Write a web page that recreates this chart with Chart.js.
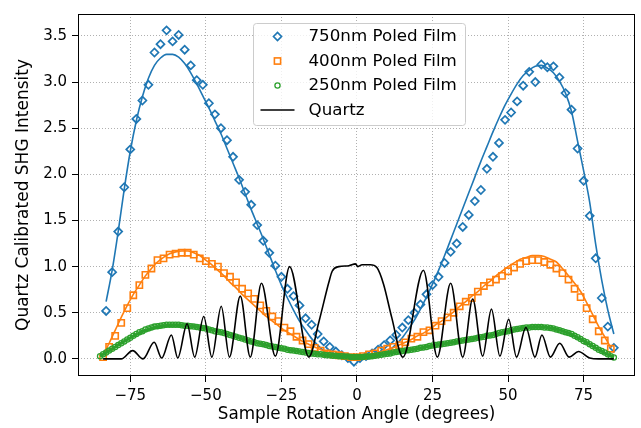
<!DOCTYPE html>
<html>
<head>
<meta charset="utf-8">
<script src="https://cdn.jsdelivr.net/npm/chart.js@4.4.1/dist/chart.umd.min.js"></script>
<style>
  html, body { margin: 0; padding: 0; background: #fff; }
  #wrap { width: 641px; height: 428px; }
</style>
</head>
<body>
<div id="wrap"><canvas id="shgChart" width="641" height="428"></canvas></div>
<script>
// tick labels
const xTicks = [-75, -50, -25, 0, 25, 50, 75];
const yTicks = [0, 0.5, 1, 1.5, 2, 2.5, 3, 3.5];

// measurement angles (degrees)
function angleRange(start, end, step) {
    const out = [];
    for (let a = start; a <= end; a += step) out.push(a);
    return out;
}
const film750Angles = angleRange(-83, 85, 2);
const film400Angles = angleRange(-84, 84, 2);
const film250Angles = angleRange(-85, 85, 1);

// measured points
const film750Values = [
    0.52, 0.94, 1.38, 1.86, 2.27, 2.60, 2.80, 2.97, 3.32, 3.41,
    3.56, 3.44, 3.51, 3.35, 3.18, 3.02, 2.97, 2.77, 2.65, 2.50,
    2.37, 2.19, 1.94, 1.81, 1.67, 1.45, 1.28, 1.15, 1.01, 0.89,
    0.76, 0.68, 0.58, 0.44, 0.37, 0.27, 0.19, 0.13, 0.08, 0.04,
    0.01, -0.03,
    0.01, 0.03, 0.06, 0.10, 0.15, 0.20, 0.26, 0.34,
    0.42, 0.50, 0.59, 0.70, 0.80, 0.89, 1.04, 1.16, 1.25, 1.43,
    1.56, 1.71, 1.83, 2.06, 2.19, 2.34, 2.59, 2.67, 2.79, 2.96,
    3.11, 3.00, 3.19, 3.16, 3.17, 3.05, 2.88, 2.70, 2.28, 1.93,
    1.55, 1.09, 0.66, 0.35, 0.12
];
const film400Values = [
    0.02, 0.13, 0.25, 0.39, 0.55, 0.69, 0.80, 0.91, 0.98, 1.07,
    1.09, 1.13, 1.14, 1.15, 1.15, 1.13, 1.09, 1.06, 1.03, 1.00,
    0.93, 0.89, 0.83, 0.76, 0.71, 0.65, 0.58, 0.52, 0.46, 0.41,
    0.34, 0.30, 0.24, 0.20, 0.16, 0.12, 0.09, 0.06, 0.05, 0.04,
    0.03, 0.02, 0.02,
    0.03, 0.05, 0.06, 0.09, 0.11, 0.13, 0.15,
    0.18, 0.22, 0.24, 0.29, 0.31, 0.36, 0.41, 0.45, 0.50, 0.57,
    0.62, 0.66, 0.73, 0.79, 0.83, 0.86, 0.90, 0.95, 0.99, 1.03,
    1.06, 1.07, 1.07, 1.05, 1.02, 0.98, 0.93, 0.86, 0.76, 0.67,
    0.55, 0.43, 0.30, 0.20, 0.11
];
const film250Values = [
    0.03, 0.05, 0.07, 0.09, 0.11, 0.13, 0.15, 0.17, 0.19, 0.21,
    0.23, 0.25, 0.27, 0.29, 0.30, 0.32, 0.33, 0.34, 0.35, 0.355,
    0.36, 0.365, 0.37, 0.37, 0.37, 0.37, 0.37, 0.365, 0.36, 0.36,
    0.355, 0.35, 0.345, 0.34, 0.335, 0.33, 0.32, 0.31, 0.30, 0.295,
    0.29, 0.28, 0.27, 0.26, 0.25, 0.24, 0.23, 0.22, 0.21, 0.20,
    0.19, 0.18, 0.17, 0.165, 0.16, 0.15, 0.14, 0.135, 0.13, 0.12,
    0.115, 0.11, 0.10, 0.095, 0.09, 0.085, 0.08, 0.075, 0.07, 0.065,
    0.06, 0.055, 0.05, 0.05, 0.045, 0.04, 0.04, 0.035, 0.035, 0.03,
    0.03, 0.025, 0.025, 0.02, 0.02, 0.02, 0.02, 0.02, 0.025, 0.025,
    0.03, 0.035, 0.04, 0.045, 0.05, 0.055, 0.06, 0.07, 0.075, 0.08,
    0.085, 0.09, 0.095, 0.10, 0.105, 0.11, 0.12, 0.125, 0.13, 0.14,
    0.145, 0.15, 0.155, 0.16, 0.165, 0.17, 0.175, 0.18, 0.19, 0.195,
    0.20, 0.205, 0.21, 0.215, 0.22, 0.23, 0.235, 0.24, 0.25, 0.255,
    0.26, 0.27, 0.28, 0.29, 0.295, 0.30, 0.31, 0.32, 0.325, 0.33,
    0.335, 0.34, 0.34, 0.345, 0.345, 0.345, 0.345, 0.34, 0.34, 0.335,
    0.33, 0.32, 0.31, 0.30, 0.29, 0.28, 0.27, 0.25, 0.235, 0.215,
    0.195, 0.18, 0.16, 0.14, 0.12, 0.10, 0.085, 0.07, 0.05, 0.03,
    0.015
];

// fitted curves
const fit750Values = [
    0.62, 0.96, 1.38, 1.84, 2.25, 2.58, 2.84, 3.04, 3.18, 3.26,
    3.30, 3.30, 3.27, 3.20, 3.10, 2.98, 2.85, 2.72, 2.58, 2.44,
    2.28, 2.12, 1.96, 1.79, 1.62, 1.46, 1.30, 1.13, 0.96, 0.80,
    0.66, 0.53, 0.41, 0.31, 0.22, 0.15, 0.09, 0.05, 0.02, 0.01,
    0.00, 0.00,
    0.00, 0.00, 0.01, 0.03, 0.06, 0.10, 0.16, 0.23, 0.32, 0.42,
    0.54, 0.67, 0.81, 0.96, 1.12, 1.29, 1.46, 1.63, 1.80, 1.97,
    2.14, 2.30, 2.46, 2.61, 2.75, 2.87, 2.98, 3.07, 3.13, 3.17,
    3.18, 3.15, 3.10, 3.01, 2.88, 2.68, 2.36, 2.04, 1.70, 1.24,
    0.85, 0.53, 0.27
];
const fit400Values = [
    0.04, 0.17, 0.31, 0.45, 0.58, 0.70, 0.80, 0.90, 0.98, 1.05,
    1.10, 1.14, 1.16, 1.17, 1.17, 1.15, 1.12, 1.07, 1.02, 0.96,
    0.90, 0.83, 0.77, 0.70, 0.64, 0.58, 0.52, 0.46, 0.41, 0.36,
    0.31, 0.27, 0.23, 0.19, 0.16, 0.13, 0.10, 0.08, 0.06, 0.05,
    0.04, 0.03, 0.03,
    0.04, 0.05, 0.06, 0.08, 0.10, 0.12, 0.15,
    0.18, 0.21, 0.25, 0.28, 0.32, 0.37, 0.41, 0.46, 0.51, 0.57,
    0.62, 0.68, 0.73, 0.79, 0.84, 0.90, 0.95, 1.00, 1.04, 1.08,
    1.10, 1.12, 1.12, 1.11, 1.08, 1.05, 0.98, 0.90, 0.82, 0.73,
    0.61, 0.48, 0.35, 0.24, 0.12
];
const fit250Angles = [-85, -80, -75, -70, -65, -60, -55, -50, -45, -40, -35, -30, -25, -20, -15, -10, -5, 0,
    5, 10, 15, 20, 25, 30, 35, 40, 45, 50, 55, 60, 65, 70, 75, 80, 85];
const fit250Values = [0.03, 0.13, 0.23, 0.31, 0.355, 0.365, 0.355, 0.33, 0.29, 0.24, 0.19, 0.15, 0.115, 0.085, 0.06, 0.04, 0.03, 0.02,
    0.03, 0.055, 0.085, 0.11, 0.145, 0.17, 0.20, 0.23, 0.26, 0.30, 0.335, 0.345, 0.33, 0.28, 0.195, 0.10, 0.015];

// quartz reference (fringe peaks and troughs)
const quartzAngles = [-84, -78, -74.2, -70.8, -67.1, -64.6, -61.4, -59.3, -56.2, -53.7,
    -50.7, -48.0, -44.9, -42.2, -38.6, -35.3, -31.6, -27.0, -22.3, -15.9,
    -12.6, -9.3, -8.2, -6.0, -2.7, -0.5, 0.3, 1.7, 4.4, 6.6,
    8.8, 11.5, 15.2, 22.0, 26.6, 31.0, 35.0, 38.3, 41.6, 44.5,
    47.3, 50.2, 52.8, 55.9, 58.9, 61.2, 64.0, 67.1, 70.2, 73.3,
    77.0, 80.0, 85.0];
const quartzValues = [0.0, 0.0, 0.09, 0.0, 0.18, 0.01, 0.26, 0.01, 0.38, 0.02,
    0.46, 0.02, 0.57, 0.02, 0.68, 0.02, 0.82, 0.03, 1.00, 0.02,
    0.40, 0.83, 0.95, 1.00, 1.01, 1.03, 1.00, 1.02, 1.02, 0.99,
    0.81, 0.45, 0.02, 0.96, 0.02, 0.82, 0.02, 0.65, 0.03, 0.54,
    0.03, 0.43, 0.02, 0.34, 0.02, 0.26, 0.02, 0.17, 0.02, 0.08,
    0.01, 0.0, 0.0];

const BLUE = '#1f77b4', ORANGE = '#ff7f0e', GREEN = '#2ca02c';
const FONT = '"DejaVu Sans", "Liberation Sans", sans-serif';

const pts = (xs, ys) => xs.map((x, i) => ({ x: x, y: ys[i] }));

// draws the box frame and the legend inside the axes
const frameLegend = {
    id: 'frameLegend',
    afterDraw(chart) {
        const { ctx, chartArea: a } = chart;
        ctx.save();
        ctx.strokeStyle = '#000';
        ctx.lineWidth = 1;
        ctx.strokeRect(Math.round(a.left) + 0.5, Math.round(a.top) + 0.5,
            Math.round(a.right - a.left) - 1, Math.round(a.bottom - a.top) - 1);

        const lx = a.left + 175.5, ly = a.top + 9.5, lw = 212, lh = 102;
        ctx.beginPath();
        ctx.roundRect(lx, ly, lw, lh, 3);
        ctx.fillStyle = 'rgba(255,255,255,0.8)';
        ctx.fill();
        ctx.strokeStyle = '#cccccc';
        ctx.stroke();

        const mx = lx + 24, tx = lx + 55;
        const rows = [ly + 13, ly + 37.5, ly + 62, ly + 86.5];
        const labels = ['750nm Poled Film', '400nm Poled Film', '250nm Poled Film', 'Quartz'];

        ctx.lineWidth = 1.7;
        ctx.strokeStyle = BLUE;
        ctx.beginPath();
        ctx.moveTo(mx - 4, rows[0]); ctx.lineTo(mx, rows[0] - 4);
        ctx.lineTo(mx + 4, rows[0]); ctx.lineTo(mx, rows[0] + 4); ctx.closePath();
        ctx.stroke();

        ctx.lineWidth = 1.6;
        ctx.strokeStyle = ORANGE;
        ctx.strokeRect(mx - 3.1, rows[1] - 3.1, 6.2, 6.2);

        ctx.lineWidth = 1.3;
        ctx.strokeStyle = GREEN;
        ctx.beginPath();
        ctx.arc(mx, rows[2], 2.6, 0, Math.PI * 2);
        ctx.stroke();

        ctx.lineWidth = 1.6;
        ctx.strokeStyle = '#000';
        ctx.beginPath();
        ctx.moveTo(lx + 7, rows[3]); ctx.lineTo(lx + 41, rows[3]);
        ctx.stroke();

        ctx.fillStyle = '#000';
        ctx.font = '16.7px ' + FONT;
        ctx.textBaseline = 'middle';
        ctx.textAlign = 'left';
        labels.forEach((t, i) => ctx.fillText(t, tx, rows[i] + 0.5));
        ctx.restore();
    }
};

window.addEventListener('DOMContentLoaded', () => {
    const ctx = document.getElementById('shgChart').getContext('2d');
    new Chart(ctx, {
        type: 'scatter',
        data: {
            datasets: [
                {
                    label: '750nm Poled Film',
                    data: pts(film750Angles, film750Values),
                    pointStyle: 'rectRot',
                    pointRadius: 4,
                    borderWidth: 1.7,
                    borderColor: BLUE,
                    backgroundColor: 'rgba(0,0,0,0)',
                    order: 7
                },
                {
                    label: '750nm fit',
                    data: pts(film750Angles, fit750Values),
                    showLine: true,
                    pointRadius: 0,
                    borderWidth: 1.6,
                    borderColor: BLUE,
                    cubicInterpolationMode: 'monotone',
                    order: 6
                },
                {
                    label: '400nm Poled Film',
                    data: pts(film400Angles, film400Values),
                    pointStyle: 'rect',
                    pointRadius: 4.4,
                    borderWidth: 1.6,
                    borderColor: ORANGE,
                    backgroundColor: 'rgba(0,0,0,0)',
                    order: 5
                },
                {
                    label: '400nm fit',
                    data: pts(film400Angles, fit400Values),
                    showLine: true,
                    pointRadius: 0,
                    borderWidth: 1.6,
                    borderColor: ORANGE,
                    cubicInterpolationMode: 'monotone',
                    order: 4
                },
                {
                    label: '250nm Poled Film',
                    data: pts(film250Angles, film250Values),
                    pointStyle: 'circle',
                    pointRadius: 2.6,
                    borderWidth: 1.3,
                    borderColor: GREEN,
                    backgroundColor: 'rgba(0,0,0,0)',
                    order: 3
                },
                {
                    label: '250nm fit',
                    data: pts(fit250Angles, fit250Values),
                    showLine: true,
                    pointRadius: 0,
                    borderWidth: 3,
                    borderColor: GREEN,
                    cubicInterpolationMode: 'monotone',
                    order: 2
                },
                {
                    label: 'Quartz',
                    data: pts(quartzAngles, quartzValues),
                    showLine: true,
                    pointRadius: 0,
                    borderWidth: 1.6,
                    borderColor: '#000',
                    cubicInterpolationMode: 'monotone',
                    order: 1
                }
            ]
        },
        options: {
            responsive: false,
            animation: false,
            layout: { padding: { top: 10, right: 4, left: 0, bottom: 0 } },
            plugins: {
                legend: { display: false },
                tooltip: { enabled: false }
            },
            scales: {
                x: {
                    type: 'linear',
                    min: -92.3,
                    max: 92,
                    afterBuildTicks: s => { s.ticks = xTicks.map(v => ({ value: v })); },
                    afterFit: s => { s.height = 52; },
                    border: { display: false, dash: [1, 2] },
                    grid: { color: '#b0b0b0', lineWidth: 1, tickColor: '#000', tickLength: 6, tickWidth: 1 },
                    ticks: {
                        color: '#000',
                        padding: 5,
                        font: { family: FONT, size: 15 },
                        callback: v => (v < 0 ? '\u2212' + Math.abs(v) : String(v))
                    },
                    title: {
                        display: true,
                        text: 'Sample Rotation Angle (degrees)',
                        color: '#000',
                        font: { family: FONT, size: 16.8 },
                        padding: { top: 0, bottom: 3 }
                    }
                },
                y: {
                    type: 'linear',
                    min: -0.185,
                    max: 3.737,
                    afterBuildTicks: s => { s.ticks = yTicks.map(v => ({ value: v })); },
                    afterFit: s => { s.width = 78; },
                    border: { display: false, dash: [1, 2] },
                    grid: { color: '#b0b0b0', lineWidth: 1, tickColor: '#000', tickLength: 6, tickWidth: 1 },
                    ticks: {
                        color: '#000',
                        padding: 5,
                        font: { family: FONT, size: 15 },
                        callback: v => v.toFixed(1)
                    },
                    title: {
                        display: true,
                        text: 'Quartz Calibrated SHG Intensity',
                        color: '#000',
                        font: { family: FONT, size: 17 },
                        padding: { top: 13, bottom: 0 }
                    }
                }
            }
        },
        plugins: [frameLegend]
    });
});
</script>
</body>
</html>
